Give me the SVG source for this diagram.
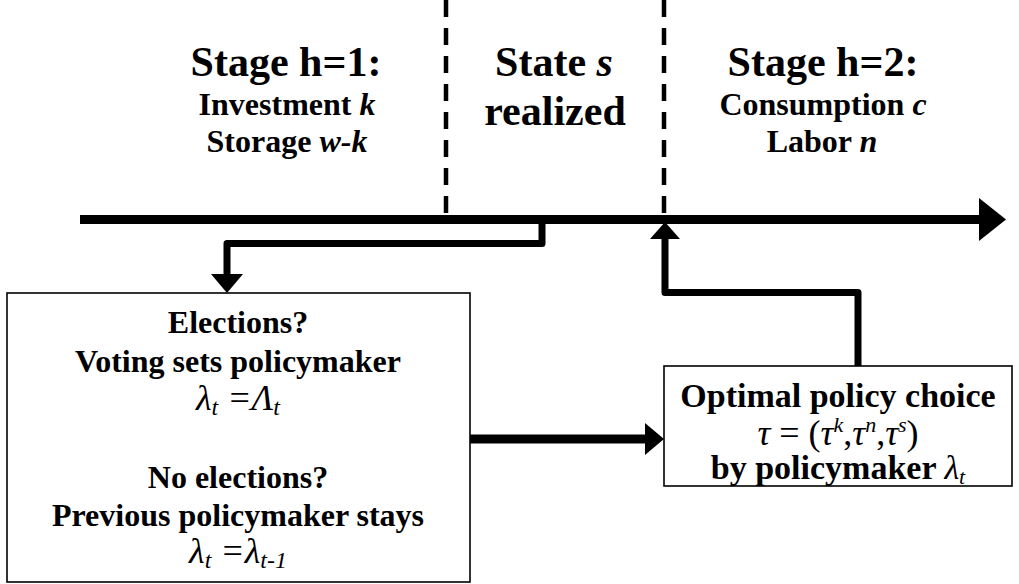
<svg xmlns="http://www.w3.org/2000/svg" width="1019" height="584" viewBox="0 0 1019 584">
<style>
text{font-family:"Liberation Serif","Times New Roman",serif;fill:#000;text-anchor:middle}
.b{font-weight:bold}
.h{font-size:42px}
.m{font-size:32px}
.r{font-size:34px}
.eq{font-size:36px;font-style:italic}
.i{font-style:italic}
.box{fill:#fff;stroke:#000;stroke-width:1.6}
.dash{stroke:#000;stroke-width:4.5;stroke-dasharray:17 11;fill:none}
.conn{fill:none;stroke:#000;stroke-width:7;stroke-linejoin:round}
.head{fill:#000}
</style>
<rect width="1019" height="584" fill="#fff"/>
<g id="dividers">
<line class="dash" x1="446" y1="0" x2="446" y2="216"/>
<line class="dash" x1="664" y1="0" x2="664" y2="216"/>
</g>
<g id="timeline">
<line x1="80" y1="219.5" x2="982" y2="219.5" stroke="#000" stroke-width="9"/>
<polygon class="head" points="979,198 1006,219.5 979,241"/>
</g>
<g id="stage1">
<text class="b h" x="286" y="76">Stage h=1:</text>
<text class="b m" x="287" y="115">Investment <tspan class="i">k</tspan></text>
<text class="b m" x="287" y="152">Storage <tspan class="i">w-k</tspan></text>
</g>
<g id="state">
<text class="b h" x="554" y="76">State <tspan class="i">s</tspan></text>
<text class="b h" x="555" y="125">realized</text>
</g>
<g id="stage2">
<text class="b h" x="823" y="76">Stage h=2:</text>
<text class="b m" x="823" y="115">Consumption <tspan class="i">c</tspan></text>
<text class="b m" x="822" y="152">Labor <tspan class="i">n</tspan></text>
</g>
<g id="connectors">
<polyline class="conn" points="542,223 542,243.5 227,243.5 227,276"/>
<polygon class="head" points="211,274 243,274 227,293"/>
<polyline class="conn" points="858,366 858,292.5 665,292.5 665,236"/>
<polygon class="head" points="650,239 680,239 665,222"/>
<line x1="470" y1="439" x2="648" y2="439" stroke="#000" stroke-width="9"/>
<polygon class="head" points="645,423 664,439 645,455"/>
</g>
<g id="voting">
<rect class="box" x="7" y="293" width="463" height="289"/>
<text class="b m" x="238" y="333">Elections?</text>
<text class="b m" x="238" y="372">Voting sets policymaker</text>
<text class="eq" x="238" y="410">λ<tspan font-size="24" dy="5">t</tspan><tspan dy="-5"> =Λ</tspan><tspan font-size="24" dy="5">t</tspan></text>
<text class="b m" x="238" y="488">No elections?</text>
<text class="b m" x="238" y="526">Previous policymaker stays</text>
<text class="eq" x="238" y="563">λ<tspan font-size="24" dy="5">t</tspan><tspan dy="-5"> =λ</tspan><tspan font-size="24" dy="5">t-1</tspan></text>
</g>
<g id="policy">
<rect class="box" x="664" y="366" width="348" height="120"/>
<text class="b r" x="838" y="407">Optimal policy choice</text>
<text font-size="36" x="838" y="445"><tspan class="i">τ</tspan> = (<tspan class="i">τ</tspan><tspan class="i" font-size="22" dy="-13">k</tspan><tspan dy="13">,</tspan><tspan class="i">τ</tspan><tspan class="i" font-size="22" dy="-13">n</tspan><tspan dy="13">,</tspan><tspan class="i">τ</tspan><tspan class="i" font-size="22" dy="-13">s</tspan><tspan dy="13">)</tspan></text>
<text class="b r" x="838" y="479">by policymaker <tspan class="i" font-weight="normal">λ</tspan><tspan class="i" font-weight="normal" font-size="22" dy="5">t</tspan></text>
</g>
</svg>
